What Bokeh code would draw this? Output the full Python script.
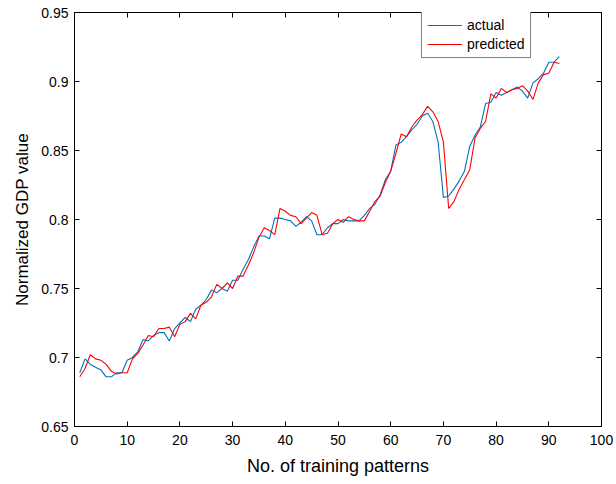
from bokeh.plotting import figure
from bokeh.models import (Range1d, FixedTicker, LinearAxis, Legend, LegendItem,
                          CustomJSTickFormatter)
from bokeh.embed import file_html
from bokeh.resources import INLINE

# Normalized GDP series over the training patterns
patterns = list(range(1, 93))

actual = [
    0.689, 0.699, 0.695, 0.693, 0.691, 0.686, 0.686, 0.689, 0.689, 0.698,
    0.700, 0.704, 0.713, 0.712, 0.716, 0.718, 0.718, 0.712, 0.721, 0.725,
    0.729, 0.726, 0.735, 0.738, 0.742, 0.749, 0.747, 0.750, 0.748, 0.756,
    0.756, 0.764, 0.771, 0.780, 0.788, 0.788, 0.786, 0.801, 0.801, 0.800,
    0.799, 0.795, 0.798, 0.802, 0.799, 0.789, 0.789, 0.794, 0.797, 0.797,
    0.800, 0.799, 0.799, 0.799, 0.803, 0.808, 0.811, 0.818, 0.829, 0.835,
    0.854, 0.856, 0.860, 0.865, 0.869, 0.875, 0.877, 0.871, 0.856, 0.816,
    0.817, 0.822, 0.828, 0.835, 0.853, 0.861, 0.867, 0.884, 0.885, 0.892,
    0.890, 0.892, 0.894, 0.896, 0.893, 0.888, 0.899, 0.902, 0.906, 0.914,
    0.914, 0.918,
]

predicted = [
    0.686, 0.692, 0.702, 0.699, 0.698, 0.695, 0.690, 0.688, 0.689, 0.689,
    0.699, 0.703, 0.709, 0.716, 0.715, 0.721, 0.721, 0.722, 0.715, 0.724,
    0.726, 0.732, 0.728, 0.738, 0.740, 0.744, 0.753, 0.750, 0.754, 0.750,
    0.759, 0.759, 0.767, 0.776, 0.787, 0.794, 0.792, 0.789, 0.808, 0.806,
    0.803, 0.802, 0.797, 0.801, 0.805, 0.803, 0.789, 0.790, 0.797, 0.800,
    0.798, 0.802, 0.800, 0.799, 0.799, 0.806, 0.813, 0.817, 0.827, 0.835,
    0.848, 0.862, 0.860, 0.867, 0.872, 0.876, 0.882, 0.878, 0.871, 0.856,
    0.808, 0.813, 0.822, 0.829, 0.836, 0.859, 0.866, 0.871, 0.891, 0.888,
    0.895, 0.892, 0.894, 0.895, 0.897, 0.893, 0.887, 0.899, 0.905, 0.906,
    0.914, 0.913,
]

x_ticks = [0, 10, 20, 30, 40, 50, 60, 70, 80, 90, 100]
y_ticks = [0.65, 0.70, 0.75, 0.80, 0.85, 0.90, 0.95]

FONT = "Liberation Sans"

p = figure(width=616, height=484, output_backend="svg", toolbar_location=None,
           x_range=Range1d(0, 100), y_range=Range1d(0.65, 0.95),
           min_border_left=74, min_border_right=15, min_border_top=12,
           min_border_bottom=58)
p.background_fill_color = "white"
p.border_fill_color = "white"
p.outline_line_color = "black"
p.outline_line_width = 1
p.xgrid.visible = False
p.ygrid.visible = False

r_act = p.line(patterns, actual, line_color="#0072BD", line_width=1.1)
r_pred = p.line(patterns, predicted, line_color="#FF0000", line_width=1.1)

y_fmt = CustomJSTickFormatter(code="return tick.toFixed(2).replace(/0$/, '');")
blank_fmt = CustomJSTickFormatter(code="return '';")


def style_axis(ax, ticks):
    ax.ticker = FixedTicker(ticks=ticks)
    ax.axis_line_color = "black"
    ax.major_tick_line_color = "black"
    ax.major_tick_in = 5
    ax.major_tick_out = 0
    ax.minor_tick_line_color = None
    ax.major_label_text_font = FONT
    ax.major_label_text_color = "black"
    ax.major_label_text_font_size = "14px"


style_axis(p.xaxis[0], x_ticks)
style_axis(p.yaxis[0], y_ticks)
p.xaxis[0].major_label_standoff = 8
p.yaxis[0].major_label_standoff = 6
p.yaxis[0].formatter = y_fmt

p.xaxis[0].axis_label = "No. of training patterns"
p.yaxis[0].axis_label = "Normalized GDP value"
for ax in (p.xaxis[0], p.yaxis[0]):
    ax.axis_label_text_font = FONT
    ax.axis_label_text_font_style = "normal"
    ax.axis_label_text_color = "black"
p.xaxis[0].axis_label_text_font_size = "18px"
p.yaxis[0].axis_label_text_font_size = "17px"
p.xaxis[0].axis_label_standoff = 8
p.yaxis[0].axis_label_standoff = 6

# Box: ticks on the top and right edges too, without labels
top_ax = LinearAxis()
right_ax = LinearAxis()
for ax, ticks in ((top_ax, x_ticks), (right_ax, y_ticks)):
    style_axis(ax, ticks)
    ax.formatter = blank_fmt
    ax.major_label_standoff = 0
p.add_layout(top_ax, "above")
p.add_layout(right_ax, "right")

legend = Legend(items=[LegendItem(label="actual", renderers=[r_act]),
                       LegendItem(label="predicted", renderers=[r_pred])],
                location=(347, 368))
legend.label_text_font = FONT
legend.label_text_font_size = "14px"
legend.label_text_color = "black"
legend.glyph_width = 35
legend.glyph_height = 16
legend.label_standoff = 5
legend.label_height = 16
legend.spacing = 3
legend.padding = 5
legend.margin = 0
legend.border_line_color = "black"
legend.border_line_width = 0.8
legend.background_fill_color = "white"
legend.background_fill_alpha = 1
p.add_layout(legend, "center")

open("out.html", "w").write(file_html(p, INLINE))
